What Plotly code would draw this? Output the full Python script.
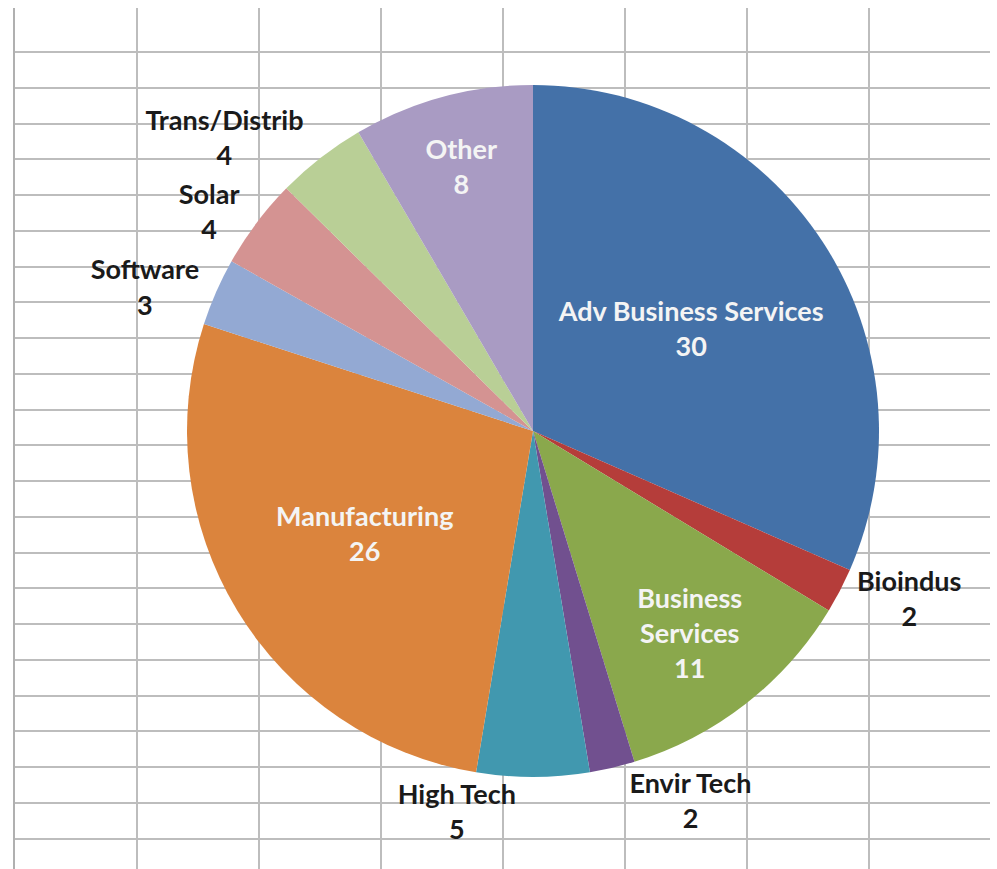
import plotly.graph_objects as go

# ---- data ----
categories = ["Adv Business Services", "Bioindus", "Business<br>Services", "Envir Tech",
              "High Tech", "Manufacturing", "Software", "Solar", "Trans/Distrib", "Other"]
values = [30, 2, 11, 2, 5, 26, 3, 4, 4, 8]
colors = ["#4471A8", "#B53D3A", "#8AA84C", "#71508F", "#4198AF",
          "#DB843D", "#93A9D3", "#D49392", "#B9CF96", "#A99BC3"]
label_pos = ["inside", "outside", "inside", "outside", "outside",
             "inside", "outside", "outside", "outside", "inside"]
label_color = ["#F4F4F4" if p == "inside" else "#1a1a1a" for p in label_pos]

W, H = 997, 869
ML, MR, MT, MB = 15, 7, 8, 0
pw, ph = W - ML - MR, H - MT - MB

# pie geometry in pixels
cx, cy, r = 533, 431, 346
dom_x = [(cx - r - ML) / pw, (cx + r - ML) / pw]
dom_y = [1 - (cy + r - MT) / ph, 1 - (cy - r - MT) / ph]

grid_x = [137, 259, 381, 503, 625, 747, 869]
grid_y = [52 + 35.75 * k for k in range(23)]

fig = go.Figure()
# empty cartesian trace so the spreadsheet-like grid is shown
fig.add_trace(go.Scatter(x=[None], y=[None], mode="markers", showlegend=False,
                         hoverinfo="skip"))
fig.add_trace(go.Pie(
    labels=categories, values=values, sort=False, direction="clockwise",
    rotation=0,
    marker=dict(colors=colors, line=dict(width=0)),
    texttemplate="%{label}<br>%{value}",
    textposition=label_pos,
    insidetextorientation="horizontal",
    textfont=dict(family="Lato", size=27, color=label_color, weight="bold"),
    domain=dict(x=dom_x, y=dom_y),
    showlegend=False,
    automargin=False,
))

fig.update_layout(
    width=W, height=H,
    margin=dict(l=ML, r=MR, t=MT, b=MB, pad=0),
    paper_bgcolor="white", plot_bgcolor="white",
    font=dict(family="Lato"),
    xaxis=dict(range=[ML, W - MR], tickvals=grid_x, showticklabels=False,
               showgrid=True, gridcolor="#BDBDBD", gridwidth=1.5,
               zeroline=False, ticks="", fixedrange=True),
    yaxis=dict(range=[H, MT], tickvals=grid_y, showticklabels=False,
               showgrid=True, gridcolor="#BDBDBD", gridwidth=1.5,
               zeroline=False, ticks="", showline=True, linecolor="#B0B0B0",
               linewidth=2, fixedrange=True),
)

fig.write_html("out.html", config={"displayModeBar": False},
               post_script="document.body.style.margin='0';document.body.style.overflow='hidden';")
